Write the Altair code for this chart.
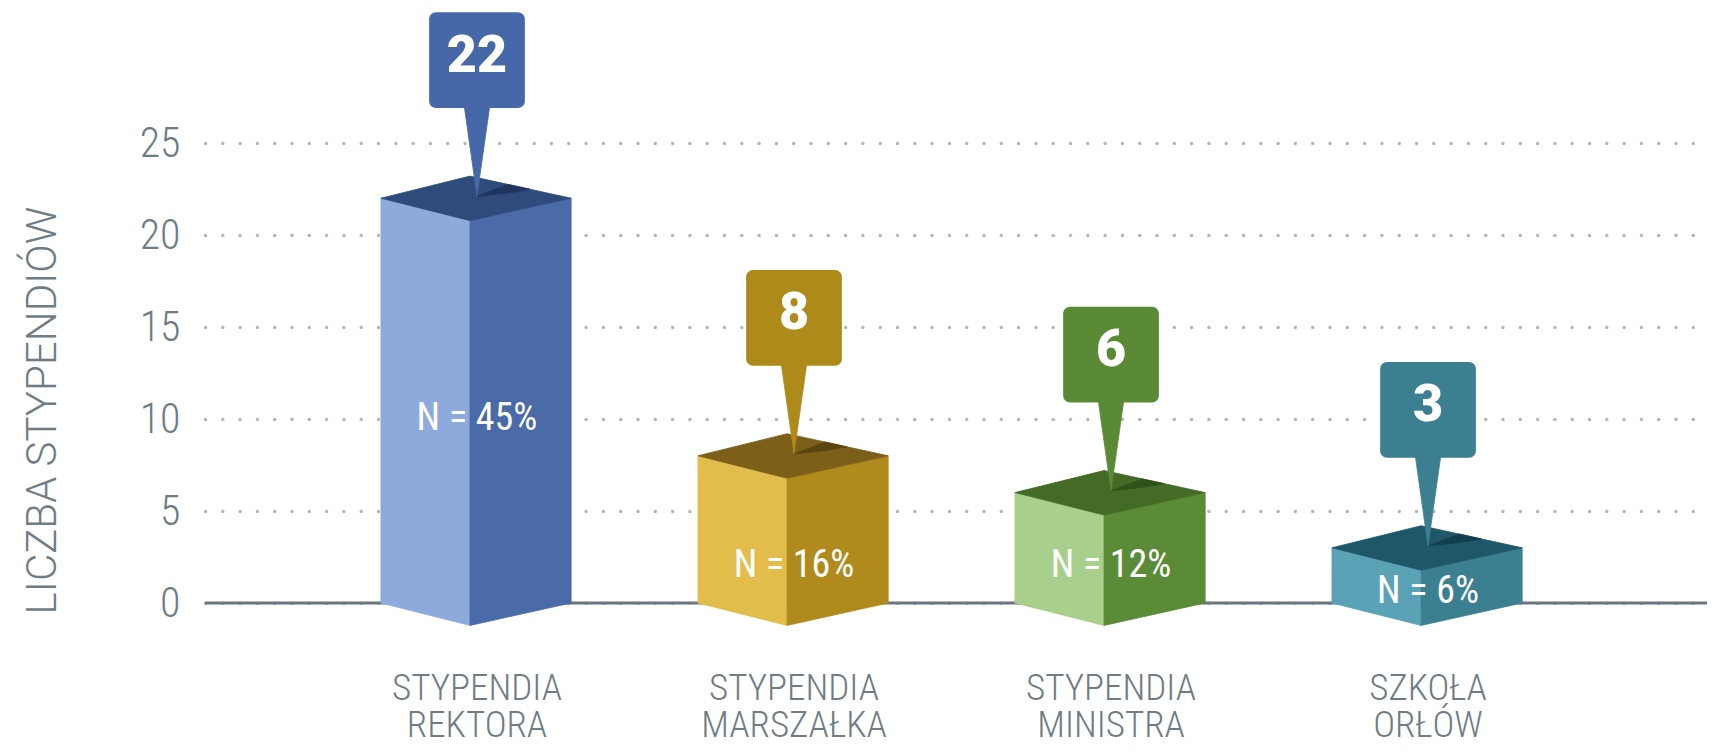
import altair as alt
import pandas as pd

# ---- data ----
categories = ["STYPENDIA\nREKTORA", "STYPENDIA\nMARSZAŁKA", "STYPENDIA\nMINISTRA", "SZKOŁA\nORŁÓW"]
values = [22, 8, 6, 3]
shares = ["N = 45%", "N = 16%", "N = 12%", "N = 6%"]
y_ticks = [0, 5, 10, 15, 20, 25]

# ---- styles ----
left_colors = ["#8eaadc", "#e2bd4b", "#a9cf8d", "#5aa3b6"]
right_colors = ["#4a6aa8", "#b08a1c", "#5b8b36", "#3b7f90"]
top_colors = ["#2f4b7c", "#7c6019", "#436a27", "#1e5868"]
wedge_colors = ["#1f3560", "#5a4510", "#2f5219", "#123f4c"]
callout_colors = ["#4768a8", "#ae8a1b", "#5a8a36", "#3b7f90"]
share_label_level = [10.0, 2.0, 2.0, 0.6]

GREY = "#6f7c84"
NARROW = "Roboto Condensed, Liberation Sans Narrow, DejaVu Sans Condensed, Roboto, sans-serif"
WIDE = "Roboto, sans-serif"
HEAVY = "Roboto, Lato, Inter, sans-serif"

# geometry (in scale units)
LEFT_W, RIGHT_W = 0.281, 0.319
DEPTH, BACK = 1.22, 1.2
CX = 0.022
BOX_HALF, BOX_LO, BOX_HI = 0.151, 4.9, 10.1
PTR_HALF, TIP = 0.041, 0.1
CAT_LEVEL_1, CAT_LEVEL_2 = -5.27, -7.28

left_rows, right_rows, top_rows, wedge_rows, ptr_rows, box_rows, txt_rows = [], [], [], [], [], [], []
for i, v in enumerate(values):
    c = categories[i]
    line1, line2 = c.split("\n")
    left_rows += [dict(cat=c, x=i - LEFT_W, y=v, y2=0, fill=left_colors[i]),
                  dict(cat=c, x=i, y=v - DEPTH, y2=-DEPTH, fill=left_colors[i])]
    right_rows += [dict(cat=c, x=i, y=v - DEPTH, y2=-DEPTH, fill=right_colors[i]),
                   dict(cat=c, x=i + RIGHT_W, y=v, y2=0, fill=right_colors[i])]
    top_rows += [dict(cat=c, x=i - LEFT_W, y=v, y2=v, fill=top_colors[i]),
                 dict(cat=c, x=i, y=v + BACK, y2=v - DEPTH, fill=top_colors[i]),
                 dict(cat=c, x=i + RIGHT_W, y=v, y2=v, fill=top_colors[i])]
    wedge_rows += [dict(cat=c, x=i + CX, y=v + TIP, y2=v + TIP, fill=wedge_colors[i]),
                   dict(cat=c, x=i + 0.12, y=v + 0.745, y2=v + 0.28, fill=wedge_colors[i]),
                   dict(cat=c, x=i + 0.189, y=v + 0.485, y2=v + 0.485, fill=wedge_colors[i])]
    ptr_rows += [dict(cat=c, x=i + CX - PTR_HALF, y=v + BOX_LO + 0.2, y2=v + BOX_LO + 0.2, fill=callout_colors[i]),
                 dict(cat=c, x=i + CX, y=v + BOX_LO + 0.2, y2=v + TIP, fill=callout_colors[i]),
                 dict(cat=c, x=i + CX + PTR_HALF, y=v + BOX_LO + 0.2, y2=v + BOX_LO + 0.2, fill=callout_colors[i])]
    box_rows.append(dict(cat=c, x=i + CX - BOX_HALF, x2=i + CX + BOX_HALF, y=v + BOX_HI, y2=v + BOX_LO,
                         fill=callout_colors[i]))
    txt_rows.append(dict(cat=c, x=i + CX, num=str(v), ynum=v + 7.75, share=shares[i],
                         yshare=share_label_level[i], line1=line1, line2=line2,
                         y1=CAT_LEVEL_1, y2=CAT_LEVEL_2))

X_DOMAIN = [-0.836, 3.902]
xs = alt.Scale(domain=X_DOMAIN, nice=False, zero=False)
ys = alt.Scale(domain=[0, 25], nice=False, zero=False)

yaxis = alt.Axis(
    values=y_ticks, title="LICZBA STYPENDIÓW", grid=True,
    gridDash=[0, 17.3], gridCap="round", gridWidth=3.5, gridColor="#b5b5b5",
    domain=False, ticks=False, labelPadding=25, labelFontSize=42, labelColor=GREY,
    labelFont=NARROW, labelFontWeight=300, titleFont=WIDE, titleFontSize=42, titleFontWeight=300,
    titleColor=GREY, titleX=-163, titleY=267, titleAngle=270, titleBaseline="middle",
    titleAlign="center",
)

X = lambda f="x": alt.X(f"{f}:Q", scale=xs, axis=None)
Y = lambda f="y": alt.Y(f"{f}:Q", scale=ys, axis=yaxis, stack=None)

base_rule = alt.Chart(pd.DataFrame({"y": [0]})).mark_rule(color="#6b7780", strokeWidth=3).encode(y=Y())


def area_layer(rows):
    df = pd.DataFrame(rows)
    return alt.Chart(df).mark_area(strokeWidth=0.8, interpolate="linear").encode(
        x=X(), y=Y(), y2="y2:Q", detail="cat:N",
        fill=alt.Fill("fill:N", scale=None), stroke=alt.Stroke("fill:N", scale=None),
    )


boxes = alt.Chart(pd.DataFrame(box_rows)).mark_rect(cornerRadius=7).encode(
    x=X(), x2="x2:Q", y=Y(), y2="y2:Q", fill=alt.Fill("fill:N", scale=None)
)

tdf = pd.DataFrame(txt_rows)
num_text = alt.Chart(tdf).mark_text(
    font=HEAVY, fontSize=52, fontWeight=900, color="white", baseline="middle", align="center"
).encode(x=X(), y=Y("ynum"), text="num:N")

share_text = alt.Chart(tdf).mark_text(
    font=NARROW, fontSize=38, color="white", baseline="middle", align="center"
).encode(x=X(), y=Y("yshare"), text="share:N")

cat_style = dict(font=NARROW, fontSize=37, fontWeight=300, color=GREY, baseline="alphabetic", align="center")
cat_text1 = alt.Chart(tdf).mark_text(**cat_style).encode(x=X(), y=Y("y1"), text="line1:N")
cat_text2 = alt.Chart(tdf).mark_text(**cat_style).encode(x=X(), y=Y("y2"), text="line2:N")

chart = alt.layer(
    base_rule,
    area_layer(left_rows),
    area_layer(right_rows),
    area_layer(top_rows),
    area_layer(wedge_rows),
    area_layer(ptr_rows),
    boxes,
    num_text,
    share_text,
    cat_text1,
    cat_text2,
).properties(
    width=1502, height=460,
    padding={"left": 197, "top": 135, "right": 0, "bottom": 141},
    autosize=alt.AutoSizeParams(type="none"),
    background="white",
).configure_view(stroke=None)

chart.save("out.html", embed_options={"renderer": "svg", "actions": False})
